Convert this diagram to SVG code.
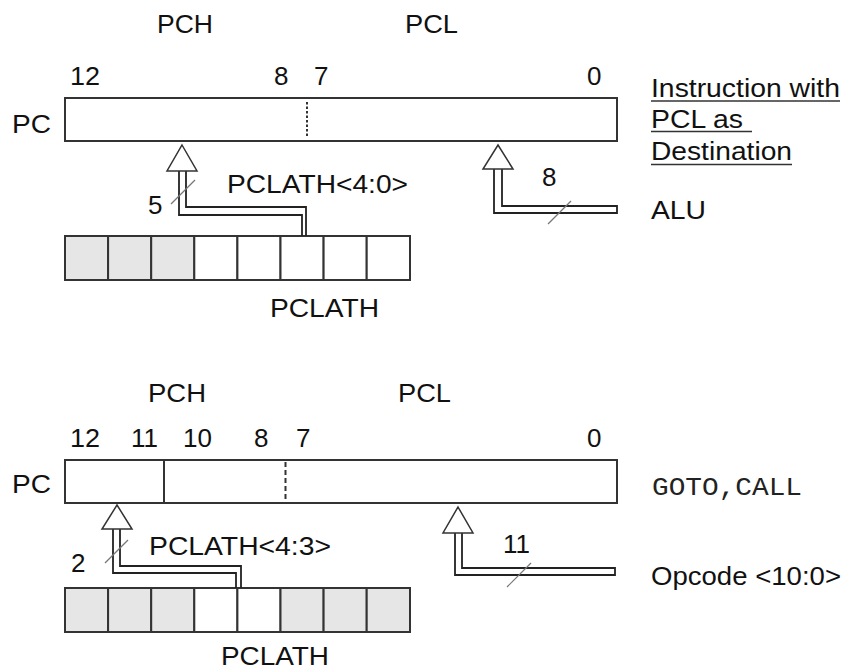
<svg xmlns="http://www.w3.org/2000/svg" width="844" height="671" viewBox="0 0 844 671">
<style>
.t{font-family:"Liberation Sans",Arial,sans-serif;font-size:26px;fill:#111}
.m{font-family:"Liberation Mono","Courier New",monospace;font-size:26px;fill:#222}
.box{fill:#fff;stroke:#333;stroke-width:2}
.g{fill:#e6e6e6;stroke:#333;stroke-width:2}
.w{fill:#fff;stroke:#333;stroke-width:2}
.div{stroke:#333;stroke-width:2;fill:none}
.pipe{fill:none;stroke:#222;stroke-width:1.8}
.head{fill:#fff;stroke:#333;stroke-width:1.5}
.sl{stroke:#777;stroke-width:1.2}
.ul{stroke:#333;stroke-width:1.5}
</style>
<rect width="844" height="671" fill="#fff"/>

<g id="labels-top">
<text class="t" x="157" y="33" textLength="56" lengthAdjust="spacingAndGlyphs">PCH</text>
<text class="t" x="405" y="33" textLength="53" lengthAdjust="spacingAndGlyphs">PCL</text>
<text class="t" x="70" y="85" textLength="30" lengthAdjust="spacingAndGlyphs">12</text>
<text class="t" x="274" y="85">8</text>
<text class="t" x="314" y="85">7</text>
<text class="t" x="587" y="85">0</text>
<text class="t" x="12" y="133" textLength="39" lengthAdjust="spacingAndGlyphs">PC</text>
<text class="t" x="148" y="214">5</text>
<text class="t" x="227" y="193" textLength="181" lengthAdjust="spacingAndGlyphs">PCLATH&lt;4:0&gt;</text>
<text class="t" x="542" y="186">8</text>
<text class="t" x="270" y="317" textLength="109" lengthAdjust="spacingAndGlyphs">PCLATH</text>
<text class="t" x="651" y="97" textLength="189" lengthAdjust="spacingAndGlyphs">Instruction with</text>
<text class="t" x="651" y="128" textLength="92" lengthAdjust="spacingAndGlyphs">PCL as</text>
<text class="t" x="651" y="160" textLength="141" lengthAdjust="spacingAndGlyphs">Destination</text>
<line class="ul" x1="651" y1="101" x2="840" y2="101"/>
<line class="ul" x1="651" y1="131.5" x2="752" y2="131.5"/>
<line class="ul" x1="651" y1="164.5" x2="792" y2="164.5"/>
<text class="t" x="651" y="219" textLength="55" lengthAdjust="spacingAndGlyphs">ALU</text>
</g>

<g id="pc-top">
<rect class="box" x="65" y="98" width="552" height="43"/>
<line class="div" x1="307" y1="102" x2="307" y2="138" stroke-dasharray="2.5,2"/>
</g>

<g id="pclath-top">
<rect class="g" x="65" y="236" width="43.1" height="44"/>
<rect class="g" x="108.1" y="236" width="43.1" height="44"/>
<rect class="g" x="151.2" y="236" width="43.1" height="44"/>
<rect class="w" x="194.3" y="236" width="43.1" height="44"/>
<rect class="w" x="237.4" y="236" width="43.1" height="44"/>
<rect class="w" x="280.5" y="236" width="43.1" height="44"/>
<rect class="w" x="323.6" y="236" width="43.1" height="44"/>
<rect class="w" x="366.7" y="236" width="43.3" height="44"/>
</g>

<g id="labels-bottom">
<text class="t" x="148" y="402" textLength="58" lengthAdjust="spacingAndGlyphs">PCH</text>
<text class="t" x="398" y="402" textLength="53" lengthAdjust="spacingAndGlyphs">PCL</text>
<text class="t" x="70" y="447" textLength="30" lengthAdjust="spacingAndGlyphs">12</text>
<text class="t" x="131" y="447">11</text>
<text class="t" x="183" y="447">10</text>
<text class="t" x="254" y="447">8</text>
<text class="t" x="296" y="447">7</text>
<text class="t" x="587" y="447">0</text>
<text class="t" x="12" y="493" textLength="39" lengthAdjust="spacingAndGlyphs">PC</text>
<text class="t" x="71" y="572">2</text>
<text class="t" x="149" y="555" textLength="182" lengthAdjust="spacingAndGlyphs">PCLATH&lt;4:3&gt;</text>
<text class="t" x="503" y="553">11</text>
<text class="t" x="221" y="665" textLength="108" lengthAdjust="spacingAndGlyphs">PCLATH</text>
<text class="m" x="652" y="495" textLength="150" lengthAdjust="spacingAndGlyphs">GOTO,CALL</text>
<text class="t" x="651" y="585" textLength="190" lengthAdjust="spacingAndGlyphs">Opcode &lt;10:0&gt;</text>
</g>

<g id="pc-bottom">
<rect class="box" x="65" y="460" width="552" height="43"/>
<line class="div" x1="164" y1="460" x2="164" y2="503"/>
<line class="div" x1="285.5" y1="462" x2="285.5" y2="502" stroke-dasharray="5,3"/>
</g>

<g id="pclath-bottom">
<rect class="g" x="65" y="588" width="43.1" height="44"/>
<rect class="g" x="108.1" y="588" width="43.1" height="44"/>
<rect class="g" x="151.2" y="588" width="43.1" height="44"/>
<rect class="w" x="194.3" y="588" width="43.1" height="44"/>
<rect class="w" x="237.4" y="588" width="43.1" height="44"/>
<rect class="g" x="280.5" y="588" width="43.1" height="44"/>
<rect class="g" x="323.6" y="588" width="43.1" height="44"/>
<rect class="g" x="366.7" y="588" width="43.3" height="44"/>
</g>

<g id="connectors">
<path class="pipe" d="M179,171 V215 H302 V236"/>
<path class="pipe" d="M186,171 V207 H306 V236"/>
<polygon class="head" points="182,145 197,171 167,171"/>
<line class="sl" x1="171" y1="204" x2="195" y2="180"/>

<path class="pipe" d="M494,169 V213 H617 V206 H502 V169"/>
<polygon class="head" points="498,145 513,169 483,169"/>
<line class="sl" x1="548" y1="224" x2="571" y2="201"/>

<path class="pipe" d="M113,529 V573 H236 V588"/>
<path class="pipe" d="M120,529 V566 H241 V588"/>
<polygon class="head" points="117,505 132,529 102,529"/>
<line class="sl" x1="105" y1="563" x2="128" y2="540"/>

<path class="pipe" d="M455,533 V575 H615 V568 H462 V533"/>
<polygon class="head" points="458,507 473,533 443,533"/>
<line class="sl" x1="507" y1="587" x2="531" y2="563"/>
</g>
</svg>
